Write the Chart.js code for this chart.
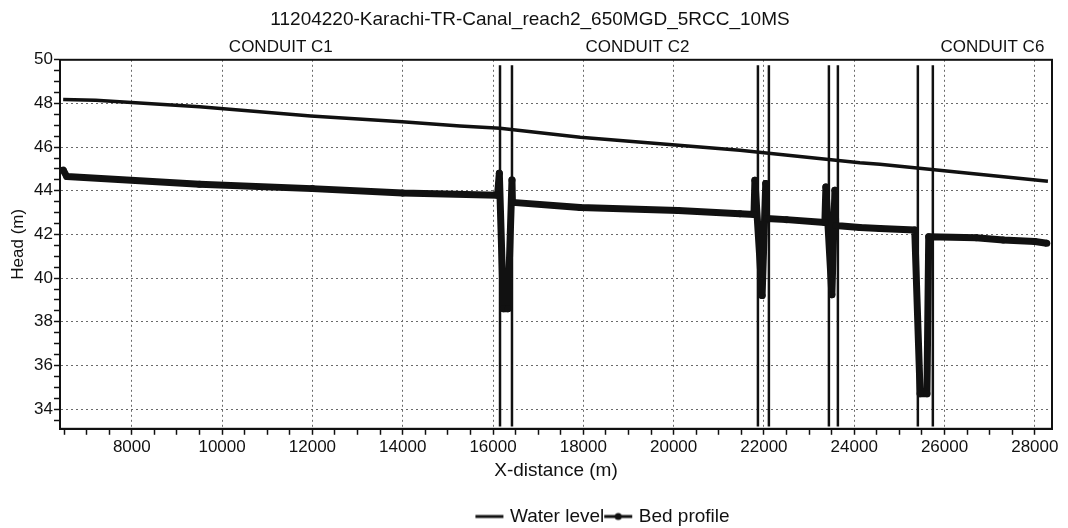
<!DOCTYPE html>
<html>
<head>
<meta charset="utf-8">
<script src="https://cdn.jsdelivr.net/npm/chart.js@4/dist/chart.umd.min.js"></script>
<style>
  html, body { margin: 0; padding: 0; background: #fff; }
  #wrap { width: 1068px; height: 528px; }
</style>
</head>
<body>
<div id="wrap"><canvas id="profileChart" width="1068" height="528"></canvas></div>
<script>
// values
const chartTitle = '11204220-Karachi-TR-Canal_reach2_650MGD_5RCC_10MS';

const waterX = [6480, 7200, 9500, 11965, 13985, 15270, 16155, 17930, 21468, 24125, 24568, 28290];
const waterY = [48.18, 48.15, 47.85, 47.43, 47.16, 46.97, 46.87, 46.45, 45.86, 45.28, 45.22, 44.44];

const bedX = [6480, 6560, 9500, 12000, 14000, 16100, 16140, 16230, 16330, 16420, 16430, 17930, 20100, 21470, 21780,
              21800, 21960, 22040, 22060, 22500, 23350, 23372, 23505, 23572, 23590, 24125, 24568, 25340, 25460,
              25610, 25650, 26700, 27300, 28000, 28265];
const bedY = [44.95, 44.65, 44.3, 44.1, 43.9, 43.8, 44.8, 38.6, 38.6, 44.5, 43.47, 43.24, 43.1, 42.95, 42.92,
              44.48, 39.2, 44.34, 42.73, 42.68, 42.55, 44.17, 39.24, 44.02, 42.41, 42.32, 42.27, 42.2, 34.7,
              34.7, 41.9, 41.85, 41.75, 41.68, 41.6];

// structure markers (vertical lines) and their vertical extent
const structureX = [16155, 16420, 21867, 22110, 23439, 23638, 25409, 25741];
const structureTop = 49.75;
const structureBottom = 33.2;

const conduitNames = ['CONDUIT C1', 'CONDUIT C2', 'CONDUIT C6'];
const conduitLabelX = [11300, 19200, 27060];

const xMin = 6410, xMax = 28380, xMinorStep = 500;
const xTickLabels = [8000, 10000, 12000, 14000, 16000, 18000, 20000, 22000, 24000, 26000, 28000];
const yMin = 33.1, yMax = 50, yMinorStep = 0.5;
const yTickLabels = [34, 36, 38, 40, 42, 44, 46, 48, 50];

const FONT = "'Liberation Sans', Arial, sans-serif";
const NARROW = "'Liberation Sans Narrow', " + FONT;
const INK = '#111';
const GRID = '#6a6a6a';
const LEGEND_SHIFT = 74; // legend sits right of centre in the original

function toPoints(xs, ys) {
    return xs.map(function(x, i) { return { x: x, y: ys[i] }; });
}

const structurePoints = [];
structureX.forEach(function(x) {
    structurePoints.push({ x: x, y: structureTop });
    structurePoints.push({ x: x, y: structureBottom });
    structurePoints.push({ x: x, y: null });
});

function minorTicks(min, max, step) {
    const out = [];
    for (let v = Math.ceil(min / step) * step; v <= max + 1e-9; v += step) out.push({ value: +v.toFixed(3) });
    return out;
}

// small legend samples: plain line, line with a dot
function legendSample(withDot) {
    const c = document.createElement('canvas');
    c.width = 30; c.height = 10;
    const g = c.getContext('2d');
    g.strokeStyle = INK;
    g.lineWidth = 3;
    g.beginPath(); g.moveTo(1, 5); g.lineTo(29, 5); g.stroke();
    if (withDot) {
        g.fillStyle = INK;
        g.beginPath(); g.arc(15, 5, 3.5, 0, Math.PI * 2); g.fill();
    }
    return c;
}

const frameAndLabels = {
    id: 'frameAndLabels',
    afterLayout(chart) {
        if (chart.legend) {
            chart.legend.left += LEGEND_SHIFT;
            chart.legend.right += LEGEND_SHIFT;
        }
    },
    afterDatasetsDraw(chart) {
        const a = chart.chartArea, g = chart.ctx, xs = chart.scales.x;
        g.save();
        g.strokeStyle = INK;
        g.lineWidth = 2;
        g.strokeRect(a.left, a.top, a.right - a.left, a.bottom - a.top);
        g.fillStyle = INK;
        g.font = '17px ' + NARROW;
        g.textAlign = 'center';
        g.textBaseline = 'bottom';
        conduitNames.forEach(function(n, i) {
            g.fillText(n, xs.getPixelForValue(conduitLabelX[i]), a.top - 4);
        });
        g.restore();
    }
};

const ctx = document.getElementById('profileChart').getContext('2d');
const profileChart = new Chart(ctx, {
    type: 'line',
    data: {
        datasets: [
            {
                label: 'Water level',
                data: toPoints(waterX, waterY),
                borderColor: INK,
                borderWidth: 3.5,
                pointRadius: 0,
                tension: 0
            },
            {
                label: 'Bed profile',
                data: toPoints(bedX, bedY),
                borderColor: INK,
                backgroundColor: INK,
                borderWidth: 7,
                borderJoinStyle: 'round',
                pointRadius: 3.5,
                pointBorderWidth: 0,
                tension: 0
            },
            {
                label: 'Structures',
                data: structurePoints,
                borderColor: INK,
                borderWidth: 2.5,
                pointRadius: 0,
                spanGaps: false,
                tension: 0
            }
        ]
    },
    options: {
        responsive: false,
        animation: false,
        layout: { padding: { top: 6, right: 16, left: 8, bottom: -8 } },
        plugins: {
            title: {
                display: true,
                text: chartTitle,
                color: INK,
                font: { family: FONT, size: 19, weight: 'normal' },
                padding: { top: 2, bottom: 29 }
            },
            tooltip: { enabled: false },
            legend: {
                position: 'bottom',
                labels: {
                    color: INK,
                    font: { family: FONT, size: 19 },
                    usePointStyle: true,
                    pointStyleWidth: 22,
                    boxWidth: 22,
                    padding: 3,
                    filter: function(item) { return item.text !== 'Structures'; },
                    generateLabels: function(chart) {
                        return chart.data.datasets.map(function(ds, i) {
                            return {
                                text: ds.label,
                                datasetIndex: i,
                                pointStyle: legendSample(i === 1),
                                fontColor: INK,
                                lineWidth: 0,
                                hidden: false
                            };
                        });
                    }
                }
            }
        },
        scales: {
            x: {
                type: 'linear',
                min: xMin,
                max: xMax,
                afterBuildTicks: function(s) { s.ticks = minorTicks(xMin, xMax, xMinorStep); },
                ticks: {
                    color: INK,
                    font: { family: FONT, size: 17 },
                    maxRotation: 0,
                    autoSkip: false,
                    padding: 2,
                    callback: function(v) { return xTickLabels.indexOf(v) >= 0 ? String(v) : ''; }
                },
                grid: {
                    color: function(c) { return c.tick && xTickLabels.indexOf(c.tick.value) >= 0 ? GRID : 'rgba(0,0,0,0)'; },
                    tickBorderDash: [],
                    tickColor: INK,
                    tickLength: 6,
                    tickWidth: 1.5
                },
                border: { color: INK, width: 2, dash: [2, 3] },
                title: {
                    display: true,
                    text: 'X-distance (m)',
                    color: INK,
                    font: { family: FONT, size: 19 },
                    padding: { top: 0, bottom: 22 }
                }
            },
            y: {
                type: 'linear',
                min: yMin,
                max: yMax,
                afterBuildTicks: function(s) { s.ticks = minorTicks(yMin, yMax, yMinorStep); },
                afterFit: function(s) { s.width = 52; },
                ticks: {
                    color: INK,
                    font: { family: FONT, size: 17 },
                    autoSkip: false,
                    padding: 1,
                    callback: function(v) { return yTickLabels.indexOf(v) >= 0 ? String(v) : ''; }
                },
                grid: {
                    color: function(c) { return c.tick && yTickLabels.indexOf(c.tick.value) >= 0 && c.tick.value < yMax ? GRID : 'rgba(0,0,0,0)'; },
                    tickBorderDash: [],
                    tickColor: INK,
                    tickLength: 6,
                    tickWidth: 1.5
                },
                border: { color: INK, width: 2, dash: [2, 3] },
                title: {
                    display: true,
                    text: 'Head (m)',
                    color: INK,
                    font: { family: FONT, size: 17 },
                    padding: { top: 0, bottom: 0 }
                }
            }
        }
    },
    plugins: [frameAndLabels]
});
</script>
</body>
</html>
